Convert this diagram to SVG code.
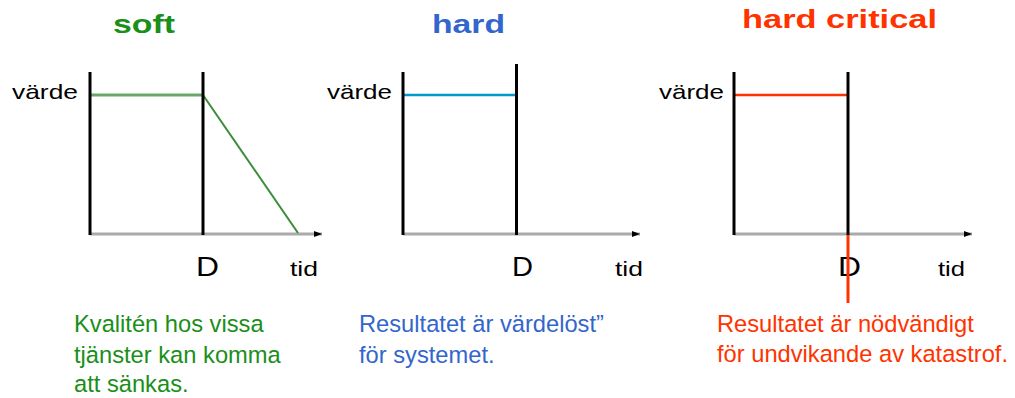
<svg xmlns="http://www.w3.org/2000/svg" width="1015" height="398" viewBox="0 0 1015 398">
<style>
text{font-family:"Liberation Sans",Arial,sans-serif}
.title{font-weight:bold;font-size:25px}
.lbl{font-size:21px;fill:#000}
.dl{font-size:28px;fill:#000}
.note{font-size:23.7px}
.ax{stroke:#aaaaaa;stroke-width:3;fill:none}
.bar{stroke:#000;stroke-width:3;fill:none}
.green{fill:#1a8f1a}
.blue{fill:#3366cc}
.red{fill:#ff3300}
</style>
<defs>
<marker id="ah" markerWidth="8" markerHeight="6" refX="8" refY="3" orient="auto" markerUnits="userSpaceOnUse">
<path d="M0,0 L8,3 L0,6 Z" fill="#000"/>
</marker>
</defs>
<rect width="1015" height="398" fill="#fff"/>

<g id="soft">
<text class="title green" x="113" y="33" textLength="62" lengthAdjust="spacingAndGlyphs">soft</text>
<text class="lbl" x="12" y="99" textLength="66" lengthAdjust="spacingAndGlyphs">värde</text>
<line class="ax" x1="90" y1="234" x2="322" y2="234" marker-end="url(#ah)"/>
<line x1="90" y1="95" x2="203" y2="95" stroke="#6aa56a" stroke-width="3"/>
<line x1="203" y1="95" x2="298" y2="233" stroke="#3d8c3d" stroke-width="2"/>
<line class="bar" x1="90" y1="72" x2="90" y2="235"/>
<line class="bar" x1="203" y1="72" x2="203" y2="235"/>
<text class="dl" x="196" y="276" textLength="23" lengthAdjust="spacingAndGlyphs">D</text>
<text class="lbl" x="290" y="276" textLength="28" lengthAdjust="spacingAndGlyphs">tid</text>
<text class="note green"><tspan x="74" y="332">Kvalitén hos vissa</tspan><tspan x="74" y="363">tjänster kan komma</tspan><tspan x="74" y="392">att sänkas.</tspan></text>
</g>

<g id="hard">
<text class="title blue" x="432" y="33" textLength="73" lengthAdjust="spacingAndGlyphs">hard</text>
<text class="lbl" x="327" y="99" textLength="65" lengthAdjust="spacingAndGlyphs">värde</text>
<line class="ax" x1="403" y1="234" x2="640" y2="234" marker-end="url(#ah)"/>
<line x1="403" y1="95" x2="516" y2="95" stroke="#0099cc" stroke-width="2.5"/>
<line class="bar" x1="403" y1="72" x2="403" y2="235"/>
<line class="bar" x1="516.5" y1="64" x2="516.5" y2="235"/>
<text class="dl" x="512" y="276" textLength="21" lengthAdjust="spacingAndGlyphs">D</text>
<text class="lbl" x="615" y="276" textLength="28" lengthAdjust="spacingAndGlyphs">tid</text>
<text class="note blue"><tspan x="359" y="332">Resultatet är värdelöst”</tspan><tspan x="359" y="363">för systemet.</tspan></text>
</g>

<g id="hard-critical">
<text class="title red" x="742" y="28" textLength="195" lengthAdjust="spacingAndGlyphs">hard critical</text>
<text class="lbl" x="659" y="99" textLength="65" lengthAdjust="spacingAndGlyphs">värde</text>
<line class="ax" x1="734" y1="234" x2="972" y2="234" marker-end="url(#ah)"/>
<line x1="734" y1="95" x2="848" y2="95" stroke="#ff3300" stroke-width="2.5"/>
<line class="bar" x1="734" y1="72" x2="734" y2="235"/>
<line class="bar" x1="848" y1="72" x2="848" y2="235"/>
<text class="dl" x="838" y="276" textLength="23" lengthAdjust="spacingAndGlyphs">D</text>
<line x1="848" y1="235" x2="848" y2="303" stroke="#ff3300" stroke-width="3"/>
<text class="lbl" x="938" y="276" textLength="27" lengthAdjust="spacingAndGlyphs">tid</text>
<text class="note red"><tspan x="717" y="332">Resultatet är nödvändigt</tspan><tspan x="717" y="362">för undvikande av katastrof.</tspan></text>
</g>
</svg>
